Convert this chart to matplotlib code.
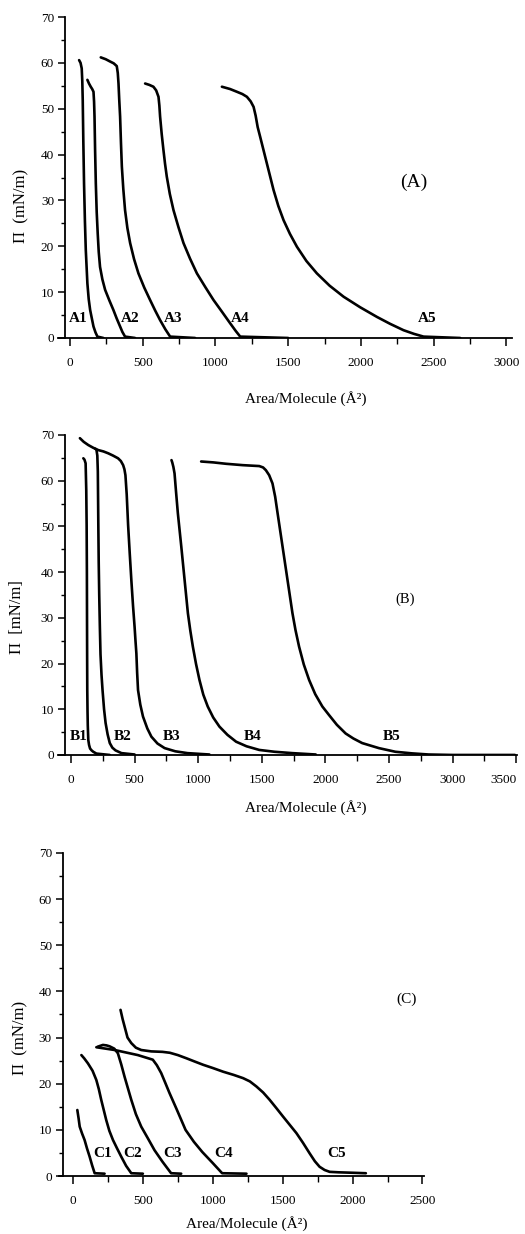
import matplotlib.pyplot as plt
from matplotlib.ticker import MultipleLocator

plt.rcParams['font.family'] = ['Liberation Serif', 'DejaVu Serif']

# ---- panel A isotherms (area in A^2, pressure in mN/m)
a1_x = [62, 72, 80, 84, 87, 91, 96, 102, 108, 119, 128, 138, 150, 161, 175, 188, 229]
a1_y = [60.6, 60.0, 58.8, 56.0, 51.9, 43.0, 33.7, 25.5, 19.2, 11.9, 8.5, 6.1, 4.2,
        2.5, 1.2, 0.3, 0.0]
a2_x = [119, 130, 142, 152, 161, 165, 168, 172, 177, 183, 190, 197, 206, 222, 241,
        270, 298, 320, 344, 360, 378, 447]
a2_y = [56.3, 55.5, 54.8, 54.3, 53.7, 51.5, 48.3, 41.0, 33.7, 27.5, 22.8, 18.8, 15.5,
        12.8, 10.5, 8.2, 6.1, 4.3, 2.5, 1.3, 0.3, 0.0]
a3_x = [211, 245, 275, 300, 321, 328, 333, 338, 344, 350, 356, 366, 378, 394, 413,
        440, 470, 510, 550, 585, 619, 655, 688, 860]
a3_y = [61.2, 60.8, 60.3, 59.9, 59.3, 57.8, 55.5, 52.0, 48.3, 42.5, 37.4, 32.5, 27.9,
        24.0, 20.7, 17.2, 14.1, 11.0, 8.3, 6.0, 3.9, 1.9, 0.3, 0.0]
a4_x = [516, 545, 573, 592, 608, 614, 619, 630, 642, 653, 665, 686, 711, 745, 780,
        825, 872, 930, 986, 1045, 1101, 1140, 1170, 1500]
a4_y = [55.5, 55.2, 54.8, 54.0, 52.6, 50.7, 48.3, 44.5, 41.0, 38.0, 35.2, 31.4, 27.9,
        24.2, 20.7, 17.3, 14.1, 11.1, 8.3, 5.7, 3.2, 1.5, 0.3, 0.0]
a5_x = [1044, 1100, 1147, 1185, 1216, 1242, 1262, 1276, 1290, 1307, 1330, 1353, 1376,
        1399, 1432, 1468, 1512, 1560, 1625, 1697, 1785, 1881, 1995, 2110, 2200, 2293,
        2365, 2431, 2683]
a5_y = [54.8, 54.3, 53.7, 53.2, 52.6, 51.6, 50.4, 48.5, 46.0, 43.9, 41.0, 38.1, 35.2,
        32.3, 28.8, 25.7, 22.7, 19.9, 16.8, 14.1, 11.4, 9.0, 6.7, 4.6, 3.1, 1.7, 0.9,
        0.3, 0.0]
a_names = ['A1', 'A2', 'A3', 'A4', 'A5']
a_lab_x = [57, 413, 711, 1170, 2455]

# ---- panel B
b1_x = [97, 106, 115, 120, 123, 125, 126, 127, 128, 130, 132, 136, 142, 150, 162,
        175, 200, 305]
b1_y = [64.9, 64.6, 63.8, 58.0, 50.3, 40.0, 30.0, 21.0, 14.2, 9.5, 6.5, 3.3, 2.2,
        1.4, 1.0, 0.7, 0.3, 0.0]
b2_x = [190, 200, 207, 211, 213, 215, 218, 222, 227, 232, 240, 248, 260, 272, 288,
        305, 325, 350, 397, 500]
b2_y = [67.0, 66.8, 65.5, 62.0, 56.0, 50.0, 42.0, 35.0, 28.0, 22.0, 17.5, 14.2, 10.0,
        7.0, 4.5, 2.6, 1.6, 1.0, 0.4, 0.1]
b3_x = [70, 100, 136, 175, 214, 255, 292, 330, 370, 392, 410, 420, 428, 438, 449, 462,
        475, 488, 500, 507, 514, 520, 527, 545, 566, 600, 632, 680, 736, 820, 916, 1088]
b3_y = [69.3, 68.5, 67.8, 67.2, 66.7, 66.4, 66.0, 65.5, 64.9, 64.3, 63.4, 62.5, 61.2,
        57.0, 50.3, 44.0, 38.0, 32.5, 28.0, 25.0, 22.2, 18.0, 14.2, 11.0, 8.4, 5.8, 4.0,
        2.5, 1.5, 0.8, 0.4, 0.1]
b4_x = [790, 796, 805, 814, 826, 840, 867, 893, 919, 938, 958, 983, 1010, 1040, 1075,
        1118, 1167, 1230, 1298, 1380, 1480, 1600, 1741, 1924]
b4_y = [64.5, 64.0, 63.0, 61.6, 57.5, 52.9, 45.6, 38.3, 31.0, 27.2, 23.7, 19.9, 16.4,
        13.2, 10.6, 8.2, 6.2, 4.4, 2.9, 1.9, 1.1, 0.7, 0.4, 0.1]
b5_x = [1023, 1120, 1219, 1350, 1480, 1510, 1532, 1558, 1584, 1605, 1624, 1663, 1702,
        1741, 1765, 1793, 1830, 1872, 1920, 1976, 2028, 2090, 2159, 2220, 2289, 2420,
        2550, 2680, 2811, 3000, 3490]
b5_y = [64.2, 64.0, 63.7, 63.4, 63.2, 62.9, 62.3, 61.2, 59.4, 56.5, 52.9, 45.6, 38.3,
        31.0, 27.3, 23.7, 19.8, 16.4, 13.3, 10.6, 8.75, 6.6, 4.7, 3.6, 2.6, 1.5, 0.7,
        0.35, 0.1, 0.0, 0.0]
b_names = ['B1', 'B2', 'B3', 'B4', 'B5']
b_lab_x = [57, 410, 788, 1428, 2523]

# ---- panel C
c1_x = [31, 40, 48, 65, 83, 100, 119, 137, 155, 226]
c1_y = [14.3, 12.5, 10.7, 9.2, 7.8, 6.0, 4.2, 2.3, 0.6, 0.5]
c2_x = [60, 80, 107, 140, 167, 185, 202, 220, 238, 260, 286, 315, 345, 380, 417, 500]
c2_y = [26.2, 25.5, 24.4, 22.8, 20.8, 18.8, 16.5, 14.3, 12.1, 9.8, 7.8, 6.0, 4.2, 2.2,
        0.6, 0.5]
c3_x = [175, 214, 240, 262, 295, 321, 345, 369, 393, 417, 450, 488, 535, 583, 640,
        702, 774]
c3_y = [28.0, 28.4, 28.3, 28.1, 27.6, 26.6, 24.2, 21.5, 19.0, 16.5, 13.4, 10.7, 8.2,
        5.6, 3.1, 0.6, 0.5]
c4_x = [167, 298, 464, 571, 600, 631, 660, 690, 741, 805, 865, 925, 1000, 1067, 1241]
c4_y = [27.9, 27.3, 26.2, 25.2, 24.0, 22.3, 20.2, 18.0, 14.5, 10.0, 7.4, 5.2, 2.8,
        0.6, 0.5]
c5_x = [340, 355, 369, 390, 417, 450, 488, 560, 640, 693, 750, 812, 871, 931, 1000,
        1074, 1150, 1217, 1265, 1312, 1360, 1407, 1455, 1502, 1550, 1598, 1645, 1693,
        1730, 1764, 1800, 1836, 1900, 2002, 2095]
c5_y = [36.0, 34.0, 32.4, 30.0, 28.8, 27.8, 27.3, 27.0, 26.9, 26.7, 26.2, 25.5, 24.8,
        24.1, 23.4, 22.6, 21.9, 21.2, 20.5, 19.4, 18.1, 16.5, 14.7, 12.9, 11.1, 9.3,
        7.2, 4.9, 3.2, 2.0, 1.3, 0.9, 0.8, 0.7, 0.6]
c_names = ['C1', 'C2', 'C3', 'C4', 'C5']
c_lab_x = [214, 429, 710, 1074, 1883]

fig = plt.figure(figsize=(5.25, 12.34), dpi=100)


def setup(ax, xmin, xmax, yspine, ylabel, xlab_pos, ylab_pos):
    ax.set_xlim(xmin, xmax)
    ax.set_ylim(0, 70)
    for s in ['top', 'right']:
        ax.spines[s].set_visible(False)
    ax.spines['left'].set_position(('data', yspine))
    ax.spines['left'].set_linewidth(1.3)
    ax.spines['bottom'].set_linewidth(1.3)
    ax.xaxis.set_major_locator(MultipleLocator(500))
    ax.xaxis.set_minor_locator(MultipleLocator(250))
    ax.yaxis.set_major_locator(MultipleLocator(10))
    ax.yaxis.set_minor_locator(MultipleLocator(5))
    ax.tick_params(axis='x', which='major', direction='out', length=6, width=1.1,
                   pad=8, labelsize=9.5)
    ax.tick_params(axis='x', which='minor', direction='out', length=4, width=1.0)
    ax.tick_params(axis='y', which='major', direction='out', length=5, width=1.1,
                   pad=3, labelsize=9.5)
    ax.tick_params(axis='y', which='minor', direction='out', length=3, width=1.0)
    ax.set_xlabel('Area/Molecule (Å²)', fontsize=11)
    ax.set_ylabel(ylabel, fontsize=12)
    ax.xaxis.set_label_coords(*xlab_pos)
    ax.yaxis.set_label_coords(*ylab_pos)


def draw(ax, curves):
    for xs, ys in curves:
        ax.plot(xs, ys, color='black', lw=1.9, solid_joinstyle='round',
                solid_capstyle='round')


# panel A
axA = fig.add_axes([0.1105, 0.7261, 0.865, 0.2601])
setup(axA, -83, 3040, -34, 'Π  (mN/m)', (0.546, -0.165), (-0.062, 0.41))
draw(axA, [(a1_x, a1_y), (a2_x, a2_y), (a3_x, a3_y), (a4_x, a4_y), (a5_x, a5_y)])
for name, lx in zip(a_names, a_lab_x):
    axA.text(lx, 4.3, name, fontsize=11, fontweight='bold', ha='center', va='center')
axA.text(2360, 34, '(A)', fontsize=14, ha='center', va='center')

# panel B
axB = fig.add_axes([0.1105, 0.3882, 0.874, 0.2593])
setup(axB, -102, 3505, -47, 'Π  [mN/m]', (0.54, -0.14), (-0.072, 0.43))
draw(axB, [(b1_x, b1_y), (b2_x, b2_y), (b3_x, b3_y), (b4_x, b4_y), (b5_x, b5_y)])
for name, lx in zip(b_names, b_lab_x):
    axB.text(lx, 4.0, name, fontsize=11, fontweight='bold', ha='center', va='center')
axB.text(2630, 34, '(B)', fontsize=10.5, ha='center', va='center')

# panel C
axC = fig.add_axes([0.1124, 0.047, 0.695, 0.2618])
setup(axC, -100, 2510, -71, 'Π  (mN/m)', (0.515, -0.125), (-0.085, 0.427))
draw(axC, [(c1_x, c1_y), (c2_x, c2_y), (c3_x, c3_y), (c4_x, c4_y), (c5_x, c5_y)])
for name, lx in zip(c_names, c_lab_x):
    axC.text(lx, 4.9, name, fontsize=11, fontweight='bold', ha='center', va='center')
axC.text(2386, 38.4, '(C)', fontsize=11, ha='center', va='center')

# last tick label of panel B sits on the figure edge: keep it inside
fig.canvas.draw()
for lab in axB.get_xticklabels():
    if lab.get_text() == '3500':
        lab.set_horizontalalignment('right')
        lab.set_x(3540)

fig.savefig('out.png', dpi=100)
